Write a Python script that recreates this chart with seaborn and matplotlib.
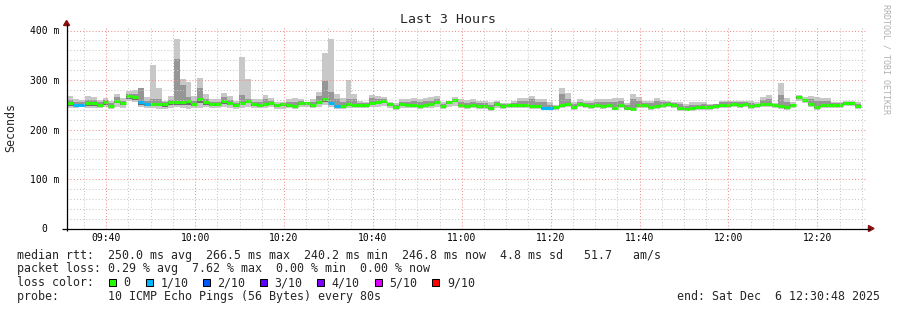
import numpy as np
import pandas as pd
import matplotlib
matplotlib.use("Agg")
import matplotlib.pyplot as plt
from matplotlib.lines import Line2D
from matplotlib.patches import Polygon, Rectangle
import seaborn as sns

# ---------------- data ----------------
title = "Last 3 Hours"
t_start = "09:31:10"
step_sec = 80
span_min = 180
x_tick_labels = ["09:40", "10:00", "10:20", "10:40", "11:00", "11:20", "11:40", "12:00", "12:20"]
y_ticks = [0, 100, 200, 300, 400]
y_tick_labels = ["0  ", "100 m", "200 m", "300 m", "400 m"]

median_ms = [253, 250, 250, 253, 253, 250, 255, 248, 258, 253, 267, 265, 256, 252, 251, 251, 251, 255, 255, 255, 258, 252, 261,
             255, 251, 251, 258, 253, 249, 253, 258, 251, 249, 251, 253, 249, 251, 249, 248, 253, 253, 249, 255, 261, 253,
             248, 248, 251, 250, 249, 249, 253, 256, 258, 251, 246, 251, 250, 250, 248, 250, 251, 255, 248, 255, 259, 250, 248,
             249, 248, 247, 244, 251, 248, 249, 249, 249, 249, 248, 248, 244, 244, 245, 249, 251, 246, 252, 249, 248, 249, 248,
             250, 244, 249, 244, 242, 249, 250, 246, 248, 249, 251, 249, 244, 242, 244, 245, 246, 246, 248, 250, 250, 251,
             250, 252, 248, 249, 251, 252, 250, 248, 245, 249, 265, 260, 252, 246, 249, 249, 250, 249, 253, 253, 248]
max_ms = [268, 262, 259, 268, 266, 260, 264, 258, 272, 263, 277, 280, 284, 265, 330, 284, 258, 267, 383, 302, 296, 267, 304,
          272, 262, 262, 273, 267, 258, 346, 302, 262, 262, 269, 263, 255, 255, 261, 263, 261, 255, 262, 276, 354, 383,
          272, 263, 300, 272, 258, 255, 270, 267, 265, 255, 253, 261, 261, 263, 261, 263, 265, 267, 255, 258, 265, 261, 260,
          261, 258, 257, 255, 258, 254, 254, 258, 263, 263, 267, 262, 262, 255, 250, 284, 273, 255, 262, 258, 258, 261, 261,
          261, 264, 264, 254, 272, 266, 257, 258, 263, 260, 258, 255, 255, 252, 255, 255, 255, 252, 252, 258, 258, 258,
          258, 258, 258, 255, 265, 270, 253, 294, 263, 255, 270, 265, 267, 265, 263, 263, 255, 255, 258, 258, 255]
upper_ms = [260, 256, 255, 260, 260, 255, 260, 253, 265, 258, 272, 272, 284, 258, 262, 262, 255, 260, 342, 289, 265, 258, 284,
            262, 256, 256, 265, 260, 254, 270, 262, 256, 255, 262, 258, 252, 254, 255, 256, 257, 256, 256, 268, 297, 276,
            262, 256, 262, 262, 254, 253, 264, 262, 262, 254, 250, 256, 256, 258, 256, 257, 258, 262, 252, 257, 262, 256, 254,
            256, 254, 253, 250, 255, 251, 252, 254, 258, 258, 262, 256, 256, 250, 248, 272, 262, 251, 256, 254, 254, 256, 255,
            256, 256, 258, 250, 262, 258, 254, 254, 258, 256, 255, 253, 251, 248, 250, 250, 251, 250, 251, 255, 255, 255,
            255, 255, 254, 252, 260, 262, 251, 270, 256, 252, 268, 262, 262, 258, 258, 258, 253, 253, 256, 256, 252]
lower_ms = [248, 247, 247, 248, 248, 246, 250, 245, 254, 249, 262, 260, 250, 247, 248, 247, 246, 250, 250, 250, 250, 247, 253,
            250, 247, 247, 252, 249, 245, 250, 253, 247, 246, 248, 249, 246, 247, 246, 245, 249, 249, 246, 251, 256, 250,
            245, 245, 248, 247, 246, 246, 250, 252, 254, 247, 243, 248, 247, 247, 245, 247, 248, 251, 245, 251, 255, 247, 245,
            246, 245, 244, 241, 248, 245, 246, 246, 246, 246, 245, 245, 241, 241, 242, 246, 248, 243, 249, 246, 245, 246, 245,
            247, 241, 246, 241, 239, 246, 247, 243, 245, 246, 248, 246, 241, 239, 241, 242, 243, 243, 245, 247, 247, 248,
            247, 249, 245, 246, 248, 249, 247, 245, 242, 246, 262, 257, 249, 243, 246, 246, 247, 246, 250, 250, 245]
min_ms = [243, 244, 245, 244, 243, 244, 245, 242, 246, 244, 257, 256, 246, 244, 244, 242, 242, 244, 245, 244, 242, 243, 243,
          245, 244, 244, 246, 244, 242, 244, 246, 244, 243, 244, 245, 242, 242, 243, 241, 245, 245, 243, 246, 250, 246,
          242, 242, 244, 243, 243, 243, 245, 246, 247, 244, 240, 244, 243, 243, 242, 243, 244, 245, 241, 246, 248, 243, 241,
          243, 242, 241, 238, 244, 242, 243, 243, 243, 243, 242, 242, 239, 239, 240, 243, 245, 240, 246, 243, 242, 243, 242,
          244, 239, 243, 239, 237, 243, 244, 240, 242, 243, 245, 243, 238, 237, 238, 239, 240, 240, 242, 244, 244, 245,
          244, 246, 242, 243, 245, 246, 244, 242, 239, 243, 258, 254, 246, 240, 243, 243, 244, 243, 247, 247, 242]
lost_pings = [0, 1, 1, 0, 0, 0, 0, 0, 0, 0, 0, 0, 1, 1, 0, 0, 0, 0, 0, 0, 0, 0, 0,
              0, 0, 0, 0, 0, 0, 0, 0, 0, 0, 0, 0, 0, 0, 0, 0, 0, 0, 0, 0, 0, 1,
              1, 0, 0, 0, 0, 0, 0, 0, 0, 0, 0, 0, 0, 0, 0, 0, 0, 0, 0, 0, 0, 0, 0,
              0, 0, 0, 0, 0, 0, 0, 0, 0, 0, 0, 0, 1, 1, 0, 0, 0, 0, 0, 0, 0, 0, 0,
              0, 0, 0, 0, 0, 0, 0, 0, 0, 0, 0, 0, 0, 0, 0, 0, 0, 0, 0, 0, 0, 0,
              0, 0, 0, 0, 0, 0, 0, 0, 0, 0, 0, 0, 0, 0, 0, 0, 0, 0, 0, 0, 0]

loss_labels = ["0", "1/10", "2/10", "3/10", "4/10", "5/10", "9/10"]
loss_colors = ["#26ff00", "#00b8ff", "#0059ff", "#5e00ff", "#7e00ff", "#dd00ff", "#ff0000"]
loss_levels = [0, 1, 2, 3, 4, 5, 9]

legend_rtt = "median rtt:  250.0 ms avg  266.5 ms max  240.2 ms min  246.8 ms now  4.8 ms sd   51.7   am/s"
legend_loss = "packet loss: 0.29 % avg  7.62 % max  0.00 % min  0.00 % now"
legend_probe = "probe:       10 ICMP Echo Pings (56 Bytes) every 80s"
legend_end = "end: Sat Dec  6 12:30:48 2025"
watermark = "RRDTOOL / TOBI OETIKER"
y_label = "Seconds"

n = len(median_ms)
assert all(len(a) == n for a in [max_ms, upper_ms, lower_ms, min_ms, lost_pings])

# ---------------- figure ----------------
W, H = 897, 310
sns.set_style("white")
plt.rcParams["font.family"] = ["DejaVu Sans Mono", "DejaVu Sans"]
plt.rcParams["lines.solid_capstyle"] = "butt"

fig = plt.figure(figsize=(W / 100, H / 100), dpi=100)
fig.patch.set_facecolor("white")


def fx(x):
    return x / W


def fy(y):
    return 1 - y / H


ymax = 410
ax_left, ax_right = 67, 867
ax_bottom = 228.5
ax_top = ax_bottom - ymax * 0.495
ax = fig.add_axes([fx(ax_left), fy(ax_bottom), (ax_right - ax_left) / W, (ax_bottom - ax_top) / H])
ax.set_facecolor("white")

hh, mm, ss = [int(v) for v in t_start.split(":")]
t0 = hh * 60 + mm + ss / 60.0
step_min = step_sec / 60.0
edges = t0 + np.arange(n + 1) * step_min


def ext(a):
    a = np.asarray(a, dtype=float)
    return np.append(a, a[-1])


# smoke: outer (min..max) light, upper inner band mid grey, lower inner band dark grey
ax.fill_between(edges, ext(min_ms), ext(max_ms), step="post", color="#c8c8c8", lw=0, zorder=1)
ax.fill_between(edges, ext(median_ms), ext(upper_ms), step="post", color="#969696", lw=0, zorder=1.1)
ax.fill_between(edges, ext(lower_ms), ext(median_ms), step="post", color="#6c6c6c", lw=0, zorder=1.1)


def loss_index(k):
    idx = 0
    for i, lv in enumerate(loss_levels):
        if k >= lv:
            idx = i
    return idx


rows = []
for k in range(n):
    lab = loss_labels[loss_index(lost_pings[k])]
    rows.append({"seg": k, "t": edges[k], "med": median_ms[k], "loss": lab})
    rows.append({"seg": k, "t": edges[k + 1], "med": median_ms[k], "loss": lab})
df = pd.DataFrame(rows)
palette = dict(zip(loss_labels, loss_colors))
sns.lineplot(data=df, x="t", y="med", units="seg", estimator=None, hue="loss",
             palette=palette, linewidth=2.2, legend=False, sort=False, ax=ax,
             solid_capstyle="butt", zorder=2)
ax.set_xlabel("")
ax.set_ylabel("")

ax.set_xlim(t0, t0 + span_min)
ax.set_ylim(0, ymax)

major_x = [int(s[:2]) * 60 + int(s[3:]) for s in x_tick_labels]
minor_x = [v for v in np.arange(np.ceil(t0 / 5) * 5, t0 + span_min, 5) if all(abs(v - m) > 1e-6 for m in major_x)]
ax.set_xticks(major_x)
ax.set_xticklabels(x_tick_labels)
ax.set_xticks(minor_x, minor=True)
minor_y = [v for v in range(20, ymax, 20) if v not in y_ticks]
ax.set_yticks(y_ticks)
ax.set_yticklabels(y_tick_labels)
ax.set_yticks(minor_y, minor=True)

ax.set_axisbelow(False)
ax.grid(which="minor", color="#c8c8c8", linestyle=(0, (1, 2)), linewidth=0.75)
ax.grid(which="major", color="#f09090", linestyle=(0, (1, 2)), linewidth=0.75)
ax.tick_params(which="both", length=0)
ax.tick_params(axis="x", pad=3.5, labelsize=7.0, colors="black")
ax.tick_params(axis="y", pad=5.5, labelsize=7.0, colors="black")
for s in ax.spines.values():
    s.set_visible(False)

# axes lines and arrows (RRDtool style)
fig.add_artist(Line2D([fx(62), fx(870)], [fy(ax_bottom), fy(ax_bottom)], color="black", lw=0.9))
fig.add_artist(Line2D([fx(66.6), fx(66.6)], [fy(231), fy(24)], color="black", lw=0.9))
fig.add_artist(Polygon([(fx(63.6), fy(25.5)), (fx(69.6), fy(25.5)), (fx(66.6), fy(20.5))],
                       closed=True, color="#8b1010", transform=fig.transFigure))
fig.add_artist(Polygon([(fx(868.5), fy(225.5)), (fx(868.5), fy(231.5)), (fx(874), fy(228.5))],
                       closed=True, color="#8b1010", transform=fig.transFigure))

# texts
fig.text(fx(448), fy(19.5), title, ha="center", va="center", fontsize=9.5)
fig.text(fx(11), fy(127), y_label, rotation=90, ha="center", va="center", fontsize=8.4)
fig.text(fx(886), fy(4), watermark, rotation=-90, ha="center", va="top", fontsize=6, color="#b0b0b0")

fs = 8.4
fig.text(fx(16.5), fy(255), legend_rtt, ha="left", va="center", fontsize=fs)
fig.text(fx(16.5), fy(268.5), legend_loss, ha="left", va="center", fontsize=fs)
fig.text(fx(16.5), fy(282.5), "loss color:", ha="left", va="center", fontsize=fs)
fig.text(fx(16.5), fy(296.5), legend_probe, ha="left", va="center", fontsize=fs)
fig.text(fx(880), fy(296.5), legend_end, ha="right", va="center", fontsize=fs)

sw_x = [109, 145.7, 202.7, 260, 317.3, 375, 432.3]
for x, lab, col in zip(sw_x, loss_labels, loss_colors):
    fig.add_artist(Rectangle((fx(x), fy(286)), 7 / W, 7 / H, facecolor=col, edgecolor="black",
                             lw=0.75, transform=fig.transFigure))
    fig.text(fx(x + 14.5), fy(282.5), lab, ha="left", va="center", fontsize=fs)

fig.savefig("out.png", dpi=100, facecolor="white")
